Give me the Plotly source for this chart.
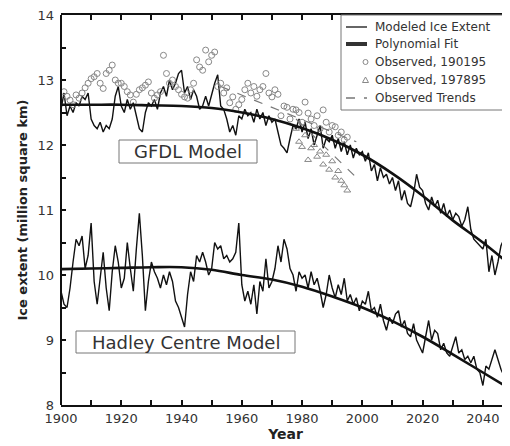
import plotly.graph_objects as go

# ---------------- data ----------------
years = list(range(1900, 2051))

gfdl_model = [
    12.55, 12.80, 12.45, 12.60, 12.50, 12.65, 12.60, 12.75, 12.70, 12.80,
    12.40, 12.30, 12.25, 12.35, 12.20, 12.30, 12.25, 12.40, 12.75, 12.90,
    12.60, 12.50, 12.70, 12.55, 12.65, 12.45, 12.25, 12.20, 12.50, 12.65,
    12.60, 12.70, 12.55, 12.80, 12.90, 12.75, 13.00, 12.85, 12.95, 13.10,
    13.15, 12.80, 12.90, 12.70, 12.85, 12.75, 12.55, 12.60, 12.75, 12.60,
    12.80, 12.95, 13.08, 12.60, 12.55, 12.40, 12.20, 12.30, 12.15, 12.45,
    12.40, 12.55, 12.45, 12.50, 12.35, 12.55, 12.40, 12.50, 12.30, 12.45,
    12.35, 12.40, 12.20, 12.00, 11.95, 11.88, 12.10, 12.30, 12.25, 12.40,
    12.20, 12.35, 12.10, 12.25, 12.00, 12.15, 12.30, 11.95, 12.10, 12.05,
    12.15, 11.95, 12.10, 11.90, 12.05, 11.85, 12.00, 11.80, 11.95, 11.85,
    11.90, 11.75, 11.88, 11.60, 11.70, 11.45, 11.65, 11.50, 11.55, 11.40,
    11.50, 11.30, 11.45, 11.15, 11.30, 11.10, 11.05, 11.25, 11.55, 11.35,
    11.30, 11.10, 11.00, 11.20, 11.05, 11.15, 10.95, 11.10, 10.90, 11.00,
    10.85, 10.95, 10.90, 10.75, 10.85, 11.05, 10.70, 10.55, 10.50, 10.45,
    10.40, 10.55, 10.05, 10.30, 10.00, 10.20, 10.45, 10.55, 10.20, 10.40,
    10.55,
]

hadley_model = [
    9.75, 9.55, 9.50, 9.80, 10.20, 10.55, 10.45, 10.60, 10.10, 10.30,
    10.80, 9.90, 9.55, 10.00, 10.35, 9.80, 9.45, 10.05, 10.45, 10.20,
    9.80, 9.95, 10.50, 10.10, 9.75, 10.40, 10.95, 10.30, 9.45, 9.90,
    10.20, 10.05, 9.95, 9.80, 10.00, 9.85, 10.05, 9.90, 9.60, 9.50,
    9.35, 9.20, 9.70, 10.05, 9.90, 10.30, 10.20, 10.35, 10.20, 10.00,
    10.10, 10.50, 10.40, 10.45, 10.25, 10.30, 10.20, 10.25, 10.35, 10.80,
    9.85, 9.60, 9.75, 9.55, 9.85, 9.40, 9.90, 9.75, 10.25, 9.80,
    9.90, 10.10, 10.45, 10.20, 10.55, 10.40, 10.10, 10.00, 9.75, 10.05,
    9.95, 10.00, 9.80, 10.05, 9.85, 9.95, 9.75, 9.50, 9.70, 10.00,
    9.80, 9.65, 9.85, 9.70, 9.95, 9.60, 9.70, 9.55, 9.65, 9.45,
    9.60, 9.55, 9.75, 9.45, 9.50, 9.35, 9.55, 9.30, 9.15, 9.35,
    9.25, 9.40, 9.45, 9.20, 9.30, 9.10, 9.05, 9.25, 9.00, 8.90,
    8.80, 9.05, 9.30, 9.00, 9.15, 9.10, 8.85, 8.95, 8.80, 8.75,
    8.90, 9.05, 8.80, 8.85, 8.70, 8.75, 8.65, 8.75, 8.55, 8.50,
    8.30, 8.60, 8.55, 8.70, 8.85, 8.70, 8.55, 8.45, 8.20, 8.40,
    8.45,
]

fit_years = [1900, 1910, 1920, 1930, 1940, 1950, 1960, 1970, 1980, 1990,
             2000, 2010, 2020, 2030, 2040, 2050]
gfdl_fit = [12.62, 12.62, 12.62, 12.61, 12.60, 12.57, 12.50, 12.40, 12.26, 12.08,
            11.85, 11.56, 11.22, 10.84, 10.50, 10.12]
hadley_fit = [10.09, 10.10, 10.11, 10.12, 10.12, 10.08, 10.00, 9.93, 9.82, 9.67,
              9.50, 9.29, 9.05, 8.78, 8.50, 8.22]

obs_long_years = list(range(1901, 1996))
obs_long = [
    12.82, 12.75, 12.69, 12.62, 12.77, 12.72, 12.80, 12.88, 12.95,
    13.02, 13.05, 13.10, 12.95, 12.87, 13.10, 13.15, 13.23, 13.00, 12.95,
    12.95, 12.90, 12.82, 12.77, 12.66, 12.78, 12.85, 12.88, 12.92, 12.97,
    12.80, 12.72, 12.77, 12.82, 13.38, 13.10, 12.95, 13.00, 12.90, 12.85,
    12.78, 12.74, 12.72, 12.85, 12.95, 13.31, 13.20, 13.15, 13.46, 13.28,
    13.38, 13.43, 12.90, 12.95, 12.80, 12.88, 12.65, 12.74, 12.55, 12.62,
    12.70, 12.85, 12.95, 12.80, 12.90, 12.75, 12.85, 12.90, 13.10, 12.80,
    12.74, 12.85, 12.78, 12.45, 12.60, 12.58, 12.40, 12.55, 12.54, 12.50,
    12.35, 12.66, 12.49, 12.40, 12.30, 12.45, 12.25, 12.54, 12.35, 12.20,
    12.30, 12.28, 12.15, 12.20, 12.08, 12.12,
]

obs_short_years = list(range(1978, 1996))
obs_short = [12.25, 12.05, 11.97, 12.15, 11.77, 11.95, 12.00, 11.82, 11.90,
             11.70, 11.85, 11.62, 11.75, 11.50, 11.60, 11.45, 11.38, 11.30]

trend_long_years = [1953, 1998]
trend_long = [12.90, 12.05]
trend_short_years = [1978, 1998]
trend_short = [12.40, 11.50]

x_tickvals = list(range(1900, 2051, 10))
x_ticktext = ["1900", "", "1920", "", "1940", "", "1960", "", "1980", "",
              "2000", "", "2020", "", "2040", ""]
y_tickvals = [8, 8.5, 9, 9.5, 10, 10.5, 11, 11.5, 12, 12.5, 13, 13.5, 14]
y_ticktext = ["8", "", "9", "", "10", "", "11", "", "12", "", "13", "", "14"]

legend_labels = ["Modeled Ice Extent", "Polynomial Fit", "Observed, 190195",
                 "Observed, 197895", "Observed Trends"]

# ---------------- figure ----------------
# page body has an 8px margin, so the figure starts at page (8, 8)
OFF = 8
W, H = 510 - OFF, 446 - OFF
L, R, T, B = 61 - OFF, 0, 15 - OFF, 41
PW, PH = W - L - R, H - T - B

def px(x):  # page pixel x -> paper
    return (x - OFF - L) / PW

def py(y):  # page pixel y -> paper
    return (H - B - (y - OFF)) / PH

FONT = "DejaVu Sans"
fig = go.Figure()

fig.add_trace(go.Scatter(x=years, y=gfdl_model, mode="lines",
                         line=dict(color="#111", width=1.4), showlegend=False))
fig.add_trace(go.Scatter(x=years, y=hadley_model, mode="lines",
                         line=dict(color="#111", width=1.4), showlegend=False))
fig.add_trace(go.Scatter(x=obs_long_years, y=obs_long, mode="markers",
                         marker=dict(symbol="circle-open", size=6, color="#888",
                                     line=dict(width=1)), showlegend=False))
fig.add_trace(go.Scatter(x=obs_short_years, y=obs_short, mode="markers",
                         marker=dict(symbol="triangle-up-open", size=6, color="#888",
                                     line=dict(width=1)), showlegend=False))
fig.add_trace(go.Scatter(x=trend_long_years, y=trend_long, mode="lines",
                         line=dict(color="#777", width=1.2, dash="dash"), showlegend=False))
fig.add_trace(go.Scatter(x=trend_short_years, y=trend_short, mode="lines",
                         line=dict(color="#777", width=1.2, dash="dash"), showlegend=False))
fig.add_trace(go.Scatter(x=fit_years, y=gfdl_fit, mode="lines", line_shape="spline",
                         line=dict(color="#111", width=2.6), showlegend=False))
fig.add_trace(go.Scatter(x=fit_years, y=hadley_fit, mode="lines", line_shape="spline",
                         line=dict(color="#111", width=2.6), showlegend=False))

shapes = []
annotations = []

# left axis line
shapes.append(dict(type="line", xref="paper", yref="paper", x0=0, x1=0, y0=0, y1=1,
                   line=dict(color="#111", width=2)))

# model label boxes
for (x0, x1, y0, y1, text) in [(119, 257, 140, 163, "GFDL Model"),
                               (76, 295, 331, 353, "Hadley Centre Model")]:
    shapes.append(dict(type="rect", xref="paper", yref="paper",
                       x0=px(x0), x1=px(x1), y0=py(y1), y1=py(y0),
                       line=dict(color="#777", width=1), fillcolor="white", layer="above"))
    annotations.append(dict(xref="paper", yref="paper", x=px((x0 + x1) / 2),
                            y=py((y0 + y1) / 2), text=text, showarrow=False,
                            xanchor="center", yanchor="middle",
                            font=dict(family=FONT, size=18, color="#333")))

# legend box
shapes.append(dict(type="rect", xref="paper", yref="paper",
                   x0=px(341), x1=px(530), y0=py(110), y1=py(15),
                   line=dict(color="#777", width=1), fillcolor="white", layer="above"))
rows = [27, 44, 62, 80, 98]
shapes.append(dict(type="line", xref="paper", yref="paper", x0=px(346), x1=px(367),
                   y0=py(rows[0]), y1=py(rows[0]), line=dict(color="#666", width=2),
                   layer="above"))
shapes.append(dict(type="line", xref="paper", yref="paper", x0=px(346), x1=px(367),
                   y0=py(rows[1]), y1=py(rows[1]), line=dict(color="#333", width=4),
                   layer="above"))
shapes.append(dict(type="circle", xref="paper", yref="paper", x0=px(363), x1=px(368),
                   y0=py(rows[2] + 2.5), y1=py(rows[2] - 2.5),
                   line=dict(color="#888", width=1), layer="above"))
shapes.append(dict(type="path", xref="paper", yref="paper",
                   path=f"M {px(362.5)} {py(rows[3] + 2.5)} L {px(368.5)} {py(rows[3] + 2.5)} "
                        f"L {px(365.5)} {py(rows[3] - 3)} Z",
                   line=dict(color="#888", width=1), layer="above"))
shapes.append(dict(type="line", xref="paper", yref="paper", x0=px(346), x1=px(367),
                   y0=py(rows[4]), y1=py(rows[4]),
                   line=dict(color="#777", width=1.5, dash="dash"), layer="above"))
for r, lab in zip(rows, legend_labels):
    annotations.append(dict(xref="paper", yref="paper", x=px(373), y=py(r), text=lab,
                            showarrow=False, xanchor="left", yanchor="middle",
                            font=dict(family=FONT, size=12, color="#333")))

fig.update_layout(
    width=W, height=H,
    margin=dict(l=L, r=R, t=T, b=B, autoexpand=False),
    plot_bgcolor="white", paper_bgcolor="white",
    font=dict(family=FONT, color="#222"),
    shapes=shapes, annotations=annotations, showlegend=False,
    xaxis=dict(range=[1900, 2049], tickmode="array", tickvals=x_tickvals,
               ticktext=x_ticktext, ticks="inside", ticklen=5, tickwidth=1.5,
               tickcolor="#111", showline=True, linecolor="#111", linewidth=2,
               mirror="ticks", showgrid=False, zeroline=False, automargin=False,
               ticklabeloverflow="allow",
               tickfont=dict(family=FONT, size=13, color="#333"),
               title=dict(text="<b>Year</b>", standoff=0,
                          font=dict(family=FONT, size=14, color="#222"))),
    yaxis=dict(range=[8, 14], tickmode="array", tickvals=y_tickvals,
               ticktext=y_ticktext, ticks="inside", ticklen=5, tickwidth=1.5,
               tickcolor="#111", showline=False, mirror="ticks", automargin=False,
               showgrid=False, zeroline=False, ticklabelstandoff=6,
               ticklabeloverflow="allow",
               tickfont=dict(family=FONT, size=13, color="#333"),
               title=dict(text="<b>Ice extent (million square km)</b>", standoff=6,
                          font=dict(family=FONT, size=13, color="#222"))),
)

fig.write_html("out.html")
